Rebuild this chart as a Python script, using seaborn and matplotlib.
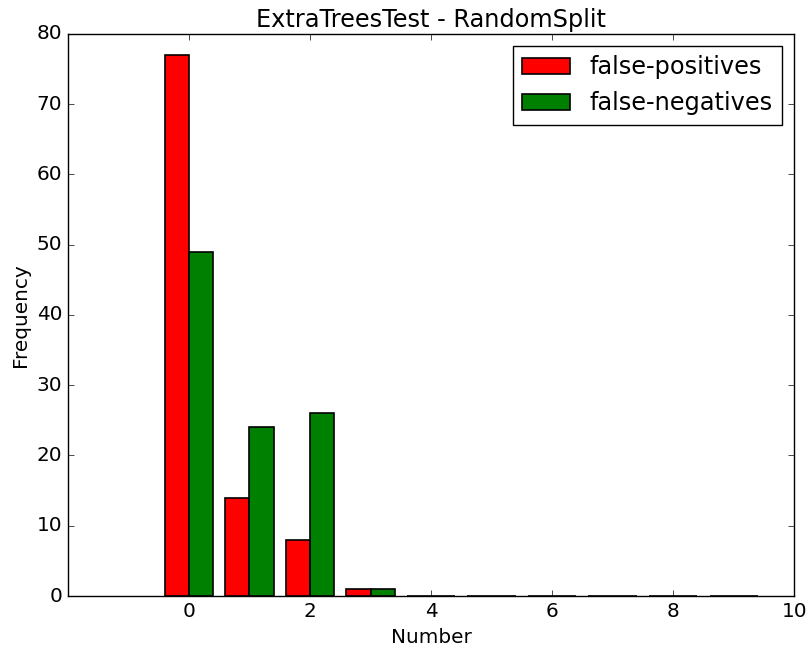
import matplotlib
matplotlib.use("Agg")
import matplotlib.pyplot as plt
import numpy as np
import pandas as pd
import seaborn as sns

# counts per number of mistakes
numbers = [0, 1, 2, 3, 4, 5, 6, 7, 8, 9]
false_positives = [77, 14, 8, 1, 0, 0, 0, 0, 0, 0]
false_negatives = [49, 24, 26, 1, 0, 0, 0, 0, 0, 0]
series = ["false-positives", "false-negatives"]
colors = ["red", "green"]

plt.style.use("classic")
plt.rcParams["font.size"] = 14.4

df = pd.DataFrame({
    "Number": numbers * 2,
    "Frequency": false_positives + false_negatives,
    "kind": [series[0]] * len(numbers) + [series[1]] * len(numbers),
})

fig = plt.figure(figsize=(8.08, 6.5), dpi=100)
ax = fig.add_axes([0.084, 0.083, 0.899, 0.865])

sns.barplot(data=df, x="Number", y="Frequency", hue="kind",
            hue_order=series, palette=colors, native_scale=True,
            width=0.8, edgecolor="black", linewidth=1.2, saturation=1,
            errorbar=None, ax=ax)

ax.set_xlim(-2, 10)
ax.set_ylim(0, 80)
ax.set_xticks([0, 2, 4, 6, 8, 10])
ax.set_yticks(np.arange(0, 81, 10))
ax.set_xlabel("Number")
ax.set_ylabel("Frequency")
ax.set_title("ExtraTreesTest - RandomSplit")

handles, labels = ax.get_legend_handles_labels()
ax.legend(handles, labels, loc="upper right")

fig.savefig("out.png", dpi=100, facecolor="white")
